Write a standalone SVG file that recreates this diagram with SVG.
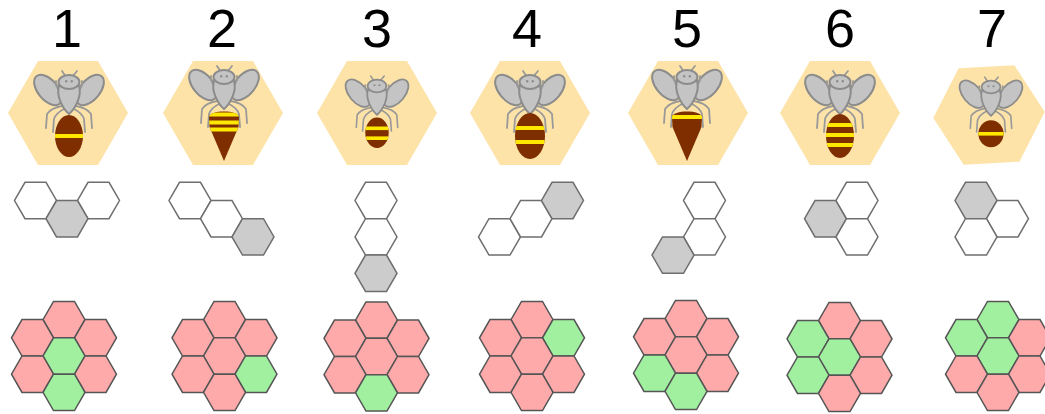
<svg xmlns="http://www.w3.org/2000/svg" xmlns:xlink="http://www.w3.org/1999/xlink" width="1045" height="414" viewBox="0 0 1045 414">
  <style>
    .digit { font-family: "Liberation Sans", Arial, sans-serif; font-size: 54px; fill: #000; text-anchor: middle; }
    .tile { fill: #fde3a8; stroke: none; }
    .cell { fill: #ffffff; stroke: #6e6e6e; stroke-width: 1.5; }
    .cell-on { fill: #cccccc; stroke: #6e6e6e; stroke-width: 1.5; }
    .petal { fill: #ffaaaa; stroke: #555555; stroke-width: 1.5; }
    .petal-on { fill: #a0f0a0; stroke: #555555; stroke-width: 1.5; }
    .bee-grey { fill: #c4c4c4; stroke: #8c8c8c; stroke-width: 2; }
    .bee-line { fill: none; stroke: #999999; stroke-width: 1.8; stroke-linecap: round; stroke-linejoin: round; }
    .bee-eye { fill: #8c8c8c; }
    .abd { fill: #7f2e00; }
    .stripe { fill: #ffe800; }
  </style>
  <defs>
    <!-- flat-topped hexagons -->
    <path id="hex-s" d="M21,0 L10.5,18.19 L-10.5,18.19 L-21,0 L-10.5,-18.19 L10.5,-18.19 Z"/>
    <path id="hex-l" d="M60,0 L30,51.96 L-30,51.96 L-60,0 L-30,-51.96 L30,-51.96 Z"/>
    <!-- pointed abdomen -->
    <path id="cone" d="M-15,40 C-15,32.5 15,32.5 15,40 L14.5,50 L0,84 L-14.5,50 Z"/>
    <!-- bee head, thorax, wings and legs; origin at the head centre -->
    <g id="bee-body">
      <path class="bee-line" d="M-3,-5 L-7,-11 M3,-5 L8,-11"/>
      <path class="bee-line" d="M-7,24 Q-18,26 -22,32 L-23,46 M-5,27 Q-13,31 -15,37 L-16,50 M7,24 Q18,26 22,32 L23,46 M5,27 Q13,31 15,37 L16,50"/>
      <ellipse class="bee-grey" cx="-21" cy="8" rx="18" ry="10" transform="rotate(50 -21 8)"/>
      <ellipse class="bee-grey" cx="21" cy="8" rx="18" ry="10" transform="rotate(-50 21 8)"/>
      <path class="bee-line" d="M-9,11 L-13,3 L-13,-1 M9,11 L13,3 L13,-1"/>
      <path class="bee-grey" d="M-10,4 C-13,13 -7,26 0,32 C7,26 13,13 10,4 Z"/>
      <ellipse class="bee-grey" cx="0" cy="0" rx="10.5" ry="7"/>
      <circle class="bee-eye" cx="-2.8" cy="-0.8" r="1.2"/>
      <circle class="bee-eye" cx="2.8" cy="-0.8" r="1.2"/>
    </g>
    <clipPath id="clip-cone"><use href="#cone"/></clipPath>
    <clipPath id="clip-a1"><ellipse cx="0" cy="54" rx="14" ry="21"/></clipPath>
    <clipPath id="clip-a3"><ellipse cx="0" cy="52" rx="13" ry="17"/></clipPath>
    <clipPath id="clip-a4"><ellipse cx="0" cy="54" rx="15" ry="23"/></clipPath>
    <clipPath id="clip-a6"><ellipse cx="0" cy="54" rx="14" ry="22"/></clipPath>
    <clipPath id="clip-a7"><ellipse cx="0" cy="52" rx="14" ry="15"/></clipPath>
  </defs>

  <rect width="1045" height="414" fill="#ffffff"/>

  <!-- column 1 -->
  <g id="col-1">
    <text class="digit" x="67" y="47">1</text>
    <g id="bee-1">
      <use class="tile" href="#hex-l" transform="translate(68,113)"/>
      <g transform="translate(69,82)">
        <use href="#bee-body"/>
        <ellipse class="abd" cx="0" cy="54" rx="14" ry="21"/>
        <g clip-path="url(#clip-a1)"><rect class="stripe" x="-16" y="52" width="32" height="4"/></g>
      </g>
    </g>
    <g id="shape-1">
      <use class="cell" href="#hex-s" transform="translate(35.5,200.5)"/>
      <use class="cell" href="#hex-s" transform="translate(98.5,200.5)"/>
      <use class="cell-on" href="#hex-s" transform="translate(67,218.7)"/>
    </g>
    <g id="flower-1" transform="translate(64,356)">
      <use class="petal" href="#hex-s" transform="translate(0,-36.37)"/>
      <use class="petal" href="#hex-s" transform="translate(-31.5,-18.19)"/>
      <use class="petal" href="#hex-s" transform="translate(31.5,-18.19)"/>
      <use class="petal-on" href="#hex-s" transform="translate(0,0)"/>
      <use class="petal" href="#hex-s" transform="translate(-31.5,18.19)"/>
      <use class="petal" href="#hex-s" transform="translate(31.5,18.19)"/>
      <use class="petal-on" href="#hex-s" transform="translate(0,36.37)"/>
    </g>
  </g>

  <!-- column 2 -->
  <g id="col-2">
    <text class="digit" x="222" y="47">2</text>
    <g id="bee-2">
      <use class="tile" href="#hex-l" transform="translate(223,113)"/>
      <g transform="translate(224,77)">
        <use href="#bee-body"/>
        <use class="abd" href="#cone"/>
        <g clip-path="url(#clip-cone)">
          <rect class="stripe" x="-16" y="35.5" width="32" height="4"/>
          <rect class="stripe" x="-16" y="43.5" width="32" height="4"/>
          <rect class="stripe" x="-16" y="50.5" width="32" height="4"/>
        </g>
      </g>
    </g>
    <g id="shape-2">
      <use class="cell" href="#hex-s" transform="translate(190,200.5)"/>
      <use class="cell" href="#hex-s" transform="translate(221.5,218.7)"/>
      <use class="cell-on" href="#hex-s" transform="translate(253,236.9)"/>
    </g>
    <g id="flower-2" transform="translate(224.5,356)">
      <use class="petal" href="#hex-s" transform="translate(0,-36.37)"/>
      <use class="petal" href="#hex-s" transform="translate(-31.5,-18.19)"/>
      <use class="petal" href="#hex-s" transform="translate(31.5,-18.19)"/>
      <use class="petal" href="#hex-s" transform="translate(0,0)"/>
      <use class="petal" href="#hex-s" transform="translate(-31.5,18.19)"/>
      <use class="petal-on" href="#hex-s" transform="translate(31.5,18.19)"/>
      <use class="petal" href="#hex-s" transform="translate(0,36.37)"/>
    </g>
  </g>

  <!-- column 3 -->
  <g id="col-3">
    <text class="digit" x="377" y="47">3</text>
    <g id="bee-3">
      <use class="tile" href="#hex-l" transform="translate(377,113)"/>
      <g transform="translate(377,86) scale(0.9)">
        <use href="#bee-body"/>
        <ellipse class="abd" cx="0" cy="52" rx="13" ry="17"/>
        <g clip-path="url(#clip-a3)">
          <rect class="stripe" x="-16" y="45" width="32" height="4"/>
          <rect class="stripe" x="-16" y="56" width="32" height="4"/>
        </g>
      </g>
    </g>
    <g id="shape-3">
      <use class="cell" href="#hex-s" transform="translate(376,200.5)"/>
      <use class="cell" href="#hex-s" transform="translate(376,236.9)"/>
      <use class="cell-on" href="#hex-s" transform="translate(376,273.3)"/>
    </g>
    <g id="flower-3" transform="translate(376.5,356.5)">
      <use class="petal" href="#hex-s" transform="translate(0,-36.37)"/>
      <use class="petal" href="#hex-s" transform="translate(-31.5,-18.19)"/>
      <use class="petal" href="#hex-s" transform="translate(31.5,-18.19)"/>
      <use class="petal" href="#hex-s" transform="translate(0,0)"/>
      <use class="petal" href="#hex-s" transform="translate(-31.5,18.19)"/>
      <use class="petal" href="#hex-s" transform="translate(31.5,18.19)"/>
      <use class="petal-on" href="#hex-s" transform="translate(0,36.37)"/>
    </g>
  </g>

  <!-- column 4 -->
  <g id="col-4">
    <text class="digit" x="527" y="47">4</text>
    <g id="bee-4">
      <use class="tile" href="#hex-l" transform="translate(530,113)"/>
      <g transform="translate(530,82)">
        <use href="#bee-body"/>
        <ellipse class="abd" cx="0" cy="54" rx="15" ry="23"/>
        <g clip-path="url(#clip-a4)">
          <rect class="stripe" x="-16" y="44" width="32" height="4"/>
          <rect class="stripe" x="-16" y="58" width="32" height="4"/>
        </g>
      </g>
    </g>
    <g id="shape-4">
      <use class="cell" href="#hex-s" transform="translate(499.5,236.9)"/>
      <use class="cell" href="#hex-s" transform="translate(531,218.7)"/>
      <use class="cell-on" href="#hex-s" transform="translate(562.5,200.5)"/>
    </g>
    <g id="flower-4" transform="translate(532,356)">
      <use class="petal" href="#hex-s" transform="translate(0,-36.37)"/>
      <use class="petal" href="#hex-s" transform="translate(-31.5,-18.19)"/>
      <use class="petal-on" href="#hex-s" transform="translate(31.5,-18.19)"/>
      <use class="petal" href="#hex-s" transform="translate(0,0)"/>
      <use class="petal" href="#hex-s" transform="translate(-31.5,18.19)"/>
      <use class="petal" href="#hex-s" transform="translate(31.5,18.19)"/>
      <use class="petal" href="#hex-s" transform="translate(0,36.37)"/>
    </g>
  </g>

  <!-- column 5 -->
  <g id="col-5">
    <text class="digit" x="687" y="47">5</text>
    <g id="bee-5">
      <use class="tile" href="#hex-l" transform="translate(688,113)"/>
      <g transform="translate(687,77)">
        <use href="#bee-body"/>
        <use class="abd" href="#cone"/>
        <g clip-path="url(#clip-cone)">
          <rect class="stripe" x="-16" y="38" width="32" height="4"/>
        </g>
      </g>
    </g>
    <g id="shape-5">
      <use class="cell" href="#hex-s" transform="translate(704.5,200.5)"/>
      <use class="cell" href="#hex-s" transform="translate(704.5,236.9)"/>
      <use class="cell-on" href="#hex-s" transform="translate(673,255.1)"/>
    </g>
    <g id="flower-5" transform="translate(686,355)">
      <use class="petal" href="#hex-s" transform="translate(0,-36.37)"/>
      <use class="petal" href="#hex-s" transform="translate(-31.5,-18.19)"/>
      <use class="petal" href="#hex-s" transform="translate(31.5,-18.19)"/>
      <use class="petal" href="#hex-s" transform="translate(0,0)"/>
      <use class="petal-on" href="#hex-s" transform="translate(-31.5,18.19)"/>
      <use class="petal" href="#hex-s" transform="translate(31.5,18.19)"/>
      <use class="petal-on" href="#hex-s" transform="translate(0,36.37)"/>
    </g>
  </g>

  <!-- column 6 -->
  <g id="col-6">
    <text class="digit" x="840" y="47">6</text>
    <g id="bee-6">
      <use class="tile" href="#hex-l" transform="translate(840,113)"/>
      <g transform="translate(840,82)">
        <use href="#bee-body"/>
        <ellipse class="abd" cx="0" cy="54" rx="14" ry="22"/>
        <g clip-path="url(#clip-a6)">
          <rect class="stripe" x="-16" y="41" width="32" height="4"/>
          <rect class="stripe" x="-16" y="51" width="32" height="4"/>
          <rect class="stripe" x="-16" y="61" width="32" height="4"/>
        </g>
      </g>
    </g>
    <g id="shape-6">
      <use class="cell-on" href="#hex-s" transform="translate(825.5,218.7)"/>
      <use class="cell" href="#hex-s" transform="translate(857,200.5)"/>
      <use class="cell" href="#hex-s" transform="translate(857,236.9)"/>
    </g>
    <g id="flower-6" transform="translate(839.5,357)">
      <use class="petal" href="#hex-s" transform="translate(0,-36.37)"/>
      <use class="petal-on" href="#hex-s" transform="translate(-31.5,-18.19)"/>
      <use class="petal" href="#hex-s" transform="translate(31.5,-18.19)"/>
      <use class="petal-on" href="#hex-s" transform="translate(0,0)"/>
      <use class="petal-on" href="#hex-s" transform="translate(-31.5,18.19)"/>
      <use class="petal" href="#hex-s" transform="translate(31.5,18.19)"/>
      <use class="petal" href="#hex-s" transform="translate(0,36.37)"/>
    </g>
  </g>

  <!-- column 7 -->
  <g id="col-7">
    <text class="digit" x="992" y="47">7</text>
    <g id="bee-7">
      <use class="tile" href="#hex-l" transform="translate(989,115) rotate(-3) scale(0.93)"/>
      <g transform="translate(991,87) scale(0.9)">
        <use href="#bee-body"/>
        <ellipse class="abd" cx="0" cy="52" rx="14" ry="15"/>
        <g clip-path="url(#clip-a7)">
          <rect class="stripe" x="-16" y="50" width="32" height="4"/>
        </g>
      </g>
    </g>
    <g id="shape-7">
      <use class="cell-on" href="#hex-s" transform="translate(976,200.5)"/>
      <use class="cell" href="#hex-s" transform="translate(1007.5,218.7)"/>
      <use class="cell" href="#hex-s" transform="translate(976,236.9)"/>
    </g>
    <g id="flower-7" transform="translate(998,356)">
      <use class="petal-on" href="#hex-s" transform="translate(0,-36.37)"/>
      <use class="petal-on" href="#hex-s" transform="translate(-31.5,-18.19)"/>
      <use class="petal" href="#hex-s" transform="translate(31.5,-18.19)"/>
      <use class="petal-on" href="#hex-s" transform="translate(0,0)"/>
      <use class="petal" href="#hex-s" transform="translate(-31.5,18.19)"/>
      <use class="petal" href="#hex-s" transform="translate(31.5,18.19)"/>
      <use class="petal" href="#hex-s" transform="translate(0,36.37)"/>
    </g>
  </g>
</svg>
